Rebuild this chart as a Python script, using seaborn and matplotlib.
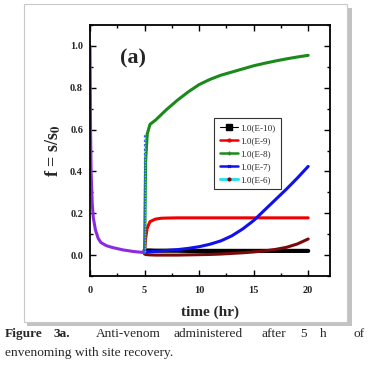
import numpy as np
import pandas as pd
import matplotlib
matplotlib.use("Agg")
import matplotlib.pyplot as plt
from matplotlib.lines import Line2D
from matplotlib.patches import Rectangle
from matplotlib.ticker import MultipleLocator
import seaborn as sns

# ---------------- data ----------------
t_pre = [0, 0.05, 0.1, 0.2, 0.3, 0.5, 0.75, 1, 1.5, 2, 3, 4, 5]
f_pre = [1.0, 0.6, 0.4, 0.25, 0.18, 0.12, 0.08, 0.06, 0.045, 0.037, 0.025, 0.017, 0.012]

t_post = [5, 5.1, 5.25, 5.5, 6, 6.5, 7, 8, 9, 10, 11, 12, 13, 14, 15, 16, 17, 18, 19, 20]
f_E10 = [0.022, 0.022, 0.022, 0.022, 0.021, 0.021, 0.021, 0.021, 0.02, 0.02, 0.02, 0.02, 0.02, 0.02, 0.02, 0.02, 0.02, 0.02, 0.02, 0.02]
f_E9 = [0.01, 0.08, 0.13, 0.16, 0.172, 0.176, 0.177, 0.178, 0.178, 0.178, 0.178, 0.178, 0.178, 0.178, 0.178, 0.178, 0.178, 0.178, 0.178, 0.178]
f_E8 = [0.01, 0.45, 0.58, 0.625, 0.645, 0.67, 0.695, 0.74, 0.78, 0.815, 0.84, 0.86, 0.875, 0.89, 0.905, 0.917, 0.928, 0.938, 0.947, 0.955]
f_E7 = [0.015, 0.015, 0.016, 0.016, 0.018, 0.02, 0.022, 0.026, 0.032, 0.04, 0.052, 0.068, 0.092, 0.125, 0.165, 0.215, 0.265, 0.315, 0.368, 0.424]
f_E6 = [0.005, 0.003, 0.002, 0.001, 0.0, 0.0, 0.0, 0.0, 0.001, 0.002, 0.003, 0.005, 0.008, 0.011, 0.015, 0.02, 0.027, 0.037, 0.053, 0.077]

t_spike = [5, 5]
f_spike = [0.01, 0.58]

labels = ["1.0(E-10)", "1.0(E-9)", "1.0(E-8)", "1.0(E-7)", "1.0(E-6)"]
x_ticks = [0, 5, 10, 15, 20]
y_ticks = [0.0, 0.2, 0.4, 0.6, 0.8, 1.0]

# ---------------- figure ----------------
sns.set_theme(style="ticks")
plt.rcParams["font.family"] = ["Liberation Serif", "DejaVu Serif"]
plt.rcParams["mathtext.fontset"] = "stix"

fig = plt.figure(figsize=(3.74, 3.70), dpi=100)
W, H = 374, 370

# framed box with shadow
fig.patches.append(Rectangle((27 / W, 1 - 326 / H), 325 / W, 318 / H, transform=fig.transFigure,
                             facecolor="#9a9a9a", edgecolor="none", zorder=0, alpha=0.6))
fig.patches.append(Rectangle((23.5 / W, 1 - 322 / H), 323 / W, 318 / H, transform=fig.transFigure,
                             facecolor="white", edgecolor="#c8c8c8", linewidth=0.8, zorder=1))

ax = fig.add_axes([90 / W, 1 - 276 / H, 240 / W, 251 / H])
ax.set_zorder(3)

df_pre = pd.DataFrame({"t": t_pre, "f": f_pre})
series = [
    (f_E10, "black", 3.0),
    (f_E9, "#ee0000", 2.2),
    (f_E8, "#1a8a1a", 2.2),
    (f_E7, "#1010ee", 2.2),
    (f_E6, "#7a0a0a", 2.2),
]
for vals, col, lw in series:
    d = pd.DataFrame({"t": t_post, "f": vals})
    sns.lineplot(data=d, x="t", y="f", ax=ax, color=col, linewidth=lw, legend=False)

sns.lineplot(data=df_pre, x="t", y="f", ax=ax, color="#8a2be2", linewidth=2.2, legend=False)
ax.plot(t_spike, f_spike, color="#2060ff", linewidth=1.6, linestyle=(0, (1, 1)))
ax.plot(t_spike, f_spike, color="#30d0e0", linewidth=1.0, linestyle=(1, (1, 1)))

ax.set_xlim(0, 22)
ax.set_ylim(-0.1, 1.1)
ax.set_xticks(x_ticks)
ax.set_xticklabels([str(v) for v in x_ticks])
ax.set_yticks(y_ticks)
ax.set_yticklabels([f"{v:.1f}" for v in y_ticks])
ax.xaxis.set_minor_locator(MultipleLocator(2.5))
ax.yaxis.set_minor_locator(MultipleLocator(0.1))
ax.tick_params(which="both", direction="in", top=True, right=True, width=1.0, color="black")
ax.tick_params(which="major", length=4, labelsize=7.5, pad=5)
ax.tick_params(axis="x", which="major", pad=7)
ax.tick_params(which="minor", length=2.5)
for lab in ax.get_xticklabels() + ax.get_yticklabels():
    lab.set_fontweight("bold")
for sp in ax.spines.values():
    sp.set_linewidth(1.3)
    sp.set_color("black")

ax.set_xlabel("time (hr)", fontsize=11, fontweight="bold", labelpad=8)
ax.set_ylabel("f = s/s$_\\mathbf{0}$", fontsize=13, fontweight="bold", labelpad=5)
ax.text(3.9, 0.94, "(a)", fontsize=16, fontweight="bold", ha="center", va="center")

handles = [
    Line2D([], [], color="black", linewidth=0.8, marker="s", markersize=4, markerfacecolor="black"),
    Line2D([], [], color="#ee0000", linewidth=1.8, marker="o", markersize=2),
    Line2D([], [], color="#1a8a1a", linewidth=1.8, marker="+", markersize=3),
    Line2D([], [], color="#1010ee", linewidth=1.8, marker="x", markersize=2),
    Line2D([], [], color="#30e0f0", linewidth=2.2, marker="o", markersize=2,
           markerfacecolor="#7a0a0a", markeredgecolor="#7a0a0a"),
]
leg = ax.legend(handles, labels, loc="upper left", bbox_to_anchor=(0.517, 0.63), borderaxespad=0,
                fontsize=6.6, frameon=True, fancybox=False, edgecolor="black",
                handlelength=2.0, handletextpad=0.3, borderpad=0.6, labelspacing=0.5)
leg.get_frame().set_linewidth(0.8)

# caption (justified first line)
cap_font = 9.6
words = [("Figure", 5, "bold"), ("3a.", 53, "bold"), ("Anti-venom", 96, "normal"),
         ("administered", 173, "normal"), ("after", 262, "normal"), ("5", 300, "normal"),
         ("h", 320, "normal"), ("of", 353, "normal")]
for w, x, wt in words:
    fig.text(x / W, 1 - 334 / H, w, fontsize=cap_font, fontweight=wt, ha="left", va="center")
fig.text(5 / W, 1 - 353 / H, "envenoming with site recovery.", fontsize=cap_font, ha="left", va="center")

fig.savefig("out.png", dpi=100)
